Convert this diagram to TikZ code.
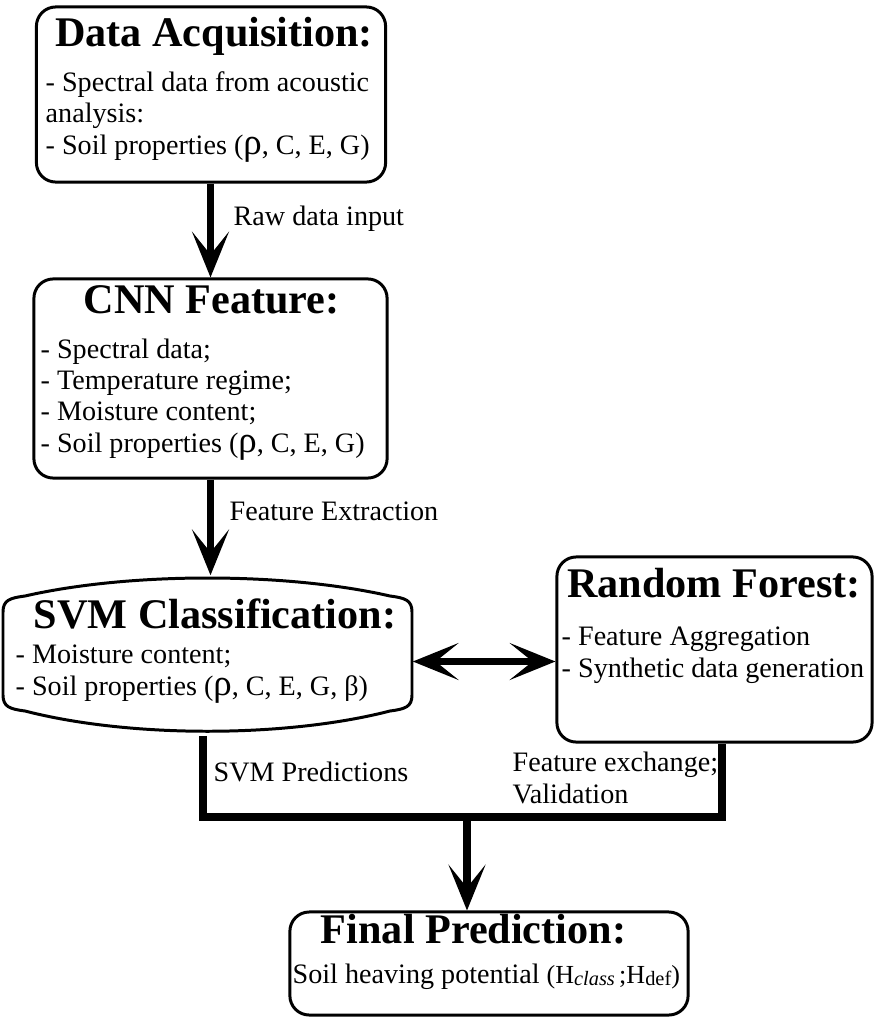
\documentclass[tikz,border=0pt]{standalone}
\usepackage{fontspec}
\setmainfont{Liberation Serif}
\usetikzlibrary{arrows.meta}

\newcommand{\rh}{{\fontsize{10.5}{9}\selectfont ρ}}

\tikzset{
  box/.style={draw, line width=0.85pt, rounded corners=5.5pt, inner sep=0pt},
  head/.style={font=\bfseries\fontsize{12}{14}\selectfont, inner sep=0pt, anchor=base},
  body/.style={font=\fontsize{8}{8.9}\selectfont, align=left, inner sep=0pt, anchor=base west},
  flow/.style={line width=2.2pt, -{Stealth[length=13pt,width=10.5pt,inset=6.5pt]}},
  dflow/.style={line width=2.2pt, {Stealth[length=13pt,width=10.5pt,inset=6.5pt]}-{Stealth[length=13pt,width=10.5pt,inset=6.5pt]}},
}

\begin{document}
\begin{tikzpicture}[x=0.01cm, y=-0.01cm]
  \useasboundingbox (0,0) rectangle (875,1024);

  % Data acquisition
  \node[box, minimum width=3.49cm, minimum height=1.75cm] (acq) at (211,94.5) {};
  \node[head] (acq-t) at (214,47) {Data Acquisition:};
  \node[body] (acq-b) at (45,154) {- Spectral data from acoustic\\analysis:\\- Soil properties (\rh, C, E, G)};

  % CNN features
  \node[box, minimum width=3.53cm, minimum height=1.99cm] (cnn) at (210.5,378.5) {};
  \node[head] (cnn-t) at (211.5,313) {CNN Feature:};
  \node[body] (cnn-b) at (40,452) {- Spectral data;\\- Temperature regime;\\- Moisture content;\\- Soil properties (\rh, C, E, G)};

  % SVM block, drawn as a barrel
  \node[minimum width=4.09cm, minimum height=1.59cm, inner sep=0pt] (svm) at (207.5,655.5) {};
  \draw[line width=0.85pt] (3,695) -- (3,612) .. controls (3,600) and (10,598) .. (25,596)
    .. controls (130,572) and (285,572) .. (390,596) .. controls (405,598) and (412,600) .. (412,612)
    -- (412,695) .. controls (412,707) and (405,709) .. (390,711)
    .. controls (285,738) and (130,738) .. (25,711) .. controls (10,709) and (3,707) .. (3,695) -- cycle;
  \node[head] (svm-t) at (215,628) {SVM Classification:};
  \node[body] (svm-b) at (15,695) {- Moisture content;\\- Soil properties (\rh, C, E, G, β)};

  % Random forest
  \node[box, minimum width=3.15cm, minimum height=1.85cm] (rf) at (714.5,649.5) {};
  \node[head] (rf-t) at (714,597) {Random Forest:};
  \node[body] (rf-b) at (561,677) {- Feature Aggregation\\- Synthetic data generation};

  % Final output
  \node[box, minimum width=3.98cm, minimum height=1.03cm] (fin) at (489,963.5) {};
  \node[head] (fin-t) at (473.5,943) {Final Prediction:};
  \node[body] (fin-b) at (292,983) {Soil heaving potential {\fontsize{7.4}{8}\selectfont(H\raisebox{-0.25ex}{\fontsize{5.8}{6}\selectfont\itshape class}\,;H\raisebox{-0.25ex}{\fontsize{5.8}{6}\selectfont def})}};

  % connectors
  \draw[flow] (acq.south -| cnn.north) -- (cnn.north);
  \node[body] (raw) at (233,225) {Raw data input};
  \draw[flow] (cnn.south) -- (cnn.south |- svm.north);
  \node[body] (ext) at (229,520) {Feature Extraction};

  \coordinate (dl) at ([yshift=-0.06cm]svm.east);
  \draw[dflow] (dl) -- (dl -| rf.west);

  \coordinate (jn) at (467,817);
  \draw[line width=2.2pt] ([xshift=-0.045cm]svm.south) |- (jn) -| ([xshift=0.075cm]rf.south);
  \draw[flow] (jn) -- (jn |- fin.north);
  \node[body] (pred) at (213,781) {SVM Predictions};
  \node[body] (exch) at (512,803) {Feature exchange;\\Validation};
\end{tikzpicture}
\end{document}
